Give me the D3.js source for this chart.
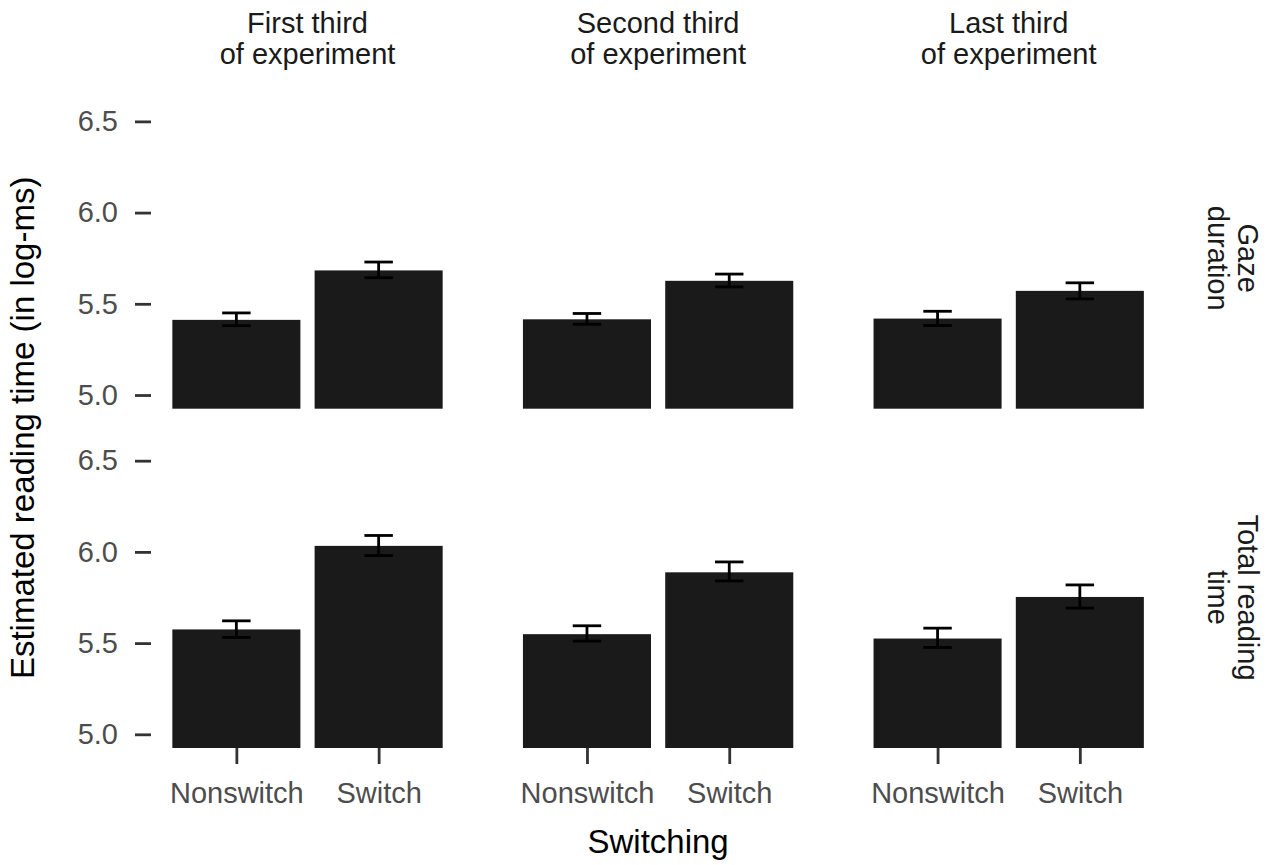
<!DOCTYPE html>
<html>
<head>
<meta charset="utf-8">
<script src="https://cdn.jsdelivr.net/npm/d3@7"></script>
<style>
  html, body { margin: 0; padding: 0; background: #fff; }
  svg { display: block; font-family: "Liberation Sans", Arial, Helvetica, sans-serif; }
</style>
</head>
<body>
<svg id="chart" width="1273" height="865"></svg>
<script>
// Facet definitions
const phases = ["First third\nof experiment", "Second third\nof experiment", "Last third\nof experiment"];
const measures = ["Gaze\nduration", "Total reading\ntime"];
const conditions = ["Nonswitch", "Switch"];
const yTicks = [5.0, 5.5, 6.0, 6.5];

// Estimated means (log-ms), one array per measure, ordered phase × condition
const gazeMean  = [5.412, 5.683, 5.415, 5.626, 5.419, 5.571];
const gazeLow   = [5.380, 5.643, 5.388, 5.593, 5.381, 5.527];
const gazeHigh  = [5.450, 5.729, 5.447, 5.663, 5.459, 5.615];
const totalMean = [5.575, 6.033, 5.549, 5.888, 5.525, 5.753];
const totalLow  = [5.531, 5.980, 5.511, 5.841, 5.476, 5.692];
const totalHigh = [5.622, 6.090, 5.595, 5.945, 5.582, 5.819];

const measureData = [
  { mean: gazeMean, low: gazeLow, high: gazeHigh },
  { mean: totalMean, low: totalLow, high: totalHigh }
];

const svg = d3.select("#chart");

// Layout of the facet grid
const panelLeft = 151, panelW = 313, colGap = 37.6;
const panelTop = 107.7, panelH = 301, rowGap = 38.3;

const yDomain = [4.925, 6.575];
const tickColor = "#333333";
const tickTextColor = "#4D4D4D";
const labelSize = 29;
const titleSize = 33;

// Column strip labels
phases.forEach((p, ci) => {
  const cx = panelLeft + ci * (panelW + colGap) + panelW / 2;
  const t = svg.append("text")
    .attr("text-anchor", "middle")
    .attr("font-size", labelSize)
    .attr("fill", "#1A1A1A");
  p.split("\n").forEach((line, li) => {
    t.append("tspan").attr("x", cx).attr("y", 33 + li * 30.5).text(line);
  });
});

measures.forEach((m, ri) => {
  const top = panelTop + ri * (panelH + rowGap);
  const y = d3.scaleLinear().domain(yDomain).range([top + panelH, top]);
  const d = measureData[ri];

  // Row strip label (rotated)
  const cy = top + panelH / 2;
  const rt = svg.append("text")
    .attr("text-anchor", "middle")
    .attr("font-size", labelSize)
    .attr("fill", "#1A1A1A")
    .attr("transform", `translate(1238,${cy}) rotate(90)`);
  m.split("\n").forEach((line, li) => {
    rt.append("tspan").attr("x", 0).attr("y", li * 30).text(line);
  });

  // Y axis (only on first column)
  const yAxis = d3.axisLeft(y).tickValues(yTicks).tickFormat(d3.format(".1f")).tickSize(16).tickPadding(17);
  const ga = svg.append("g")
    .attr("transform", `translate(${panelLeft},0)`)
    .call(yAxis);
  ga.select(".domain").remove();
  ga.selectAll(".tick line").attr("stroke", tickColor).attr("stroke-width", 2.8);
  ga.selectAll(".tick text")
    .attr("font-size", labelSize)
    .attr("fill", tickTextColor)
    .attr("font-family", "'Liberation Sans', Arial, sans-serif");

  phases.forEach((p, ci) => {
    const left = panelLeft + ci * (panelW + colGap);
    // discrete axis: categories at 1 and 2, expanded by 0.6 on each side
    const unit = panelW / 2.2;
    const xc = d3.scalePoint().domain(conditions).range([left + unit * 0.6, left + unit * 1.6]);
    const barW = unit * 0.9;
    const errW = unit * 0.2;

    const g = svg.append("g");
    conditions.forEach((c, k) => {
      const idx = ci * 2 + k;
      const cxp = xc(c);
      g.append("rect")
        .attr("x", cxp - barW / 2)
        .attr("width", barW)
        .attr("y", y(d.mean[idx]))
        .attr("height", y(yDomain[0]) - y(d.mean[idx]))
        .attr("fill", "#1A1A1A");
      // error bar
      const eb = g.append("g").attr("stroke", "#000").attr("stroke-width", 2.8).attr("fill", "none");
      eb.append("line").attr("x1", cxp).attr("x2", cxp).attr("y1", y(d.low[idx])).attr("y2", y(d.high[idx]));
      eb.append("line").attr("x1", cxp - errW / 2).attr("x2", cxp + errW / 2).attr("y1", y(d.low[idx])).attr("y2", y(d.low[idx]));
      eb.append("line").attr("x1", cxp - errW / 2).attr("x2", cxp + errW / 2).attr("y1", y(d.high[idx])).attr("y2", y(d.high[idx]));
    });

    // X axis on bottom row only
    if (ri === measures.length - 1) {
      const xAxis = d3.axisBottom(xc).tickSize(16).tickPadding(18);
      const gx = svg.append("g")
        .attr("transform", `translate(0,${top + panelH})`)
        .call(xAxis);
      gx.select(".domain").remove();
      gx.selectAll(".tick line").attr("stroke", tickColor).attr("stroke-width", 2.8);
      gx.selectAll(".tick text")
        .attr("font-size", labelSize)
        .attr("fill", tickTextColor)
        .attr("font-family", "'Liberation Sans', Arial, sans-serif");
    }
  });
});

// Axis titles
svg.append("text")
  .attr("x", panelLeft + (3 * panelW + 2 * colGap) / 2)
  .attr("y", 853)
  .attr("text-anchor", "middle")
  .attr("font-size", titleSize)
  .attr("fill", "#000")
  .text("Switching");

svg.append("text")
  .attr("transform", `translate(34,${panelTop + (2 * panelH + rowGap) / 2}) rotate(-90)`)
  .attr("text-anchor", "middle")
  .attr("font-size", titleSize)
  .attr("fill", "#000")
  .text("Estimated reading time (in log-ms)");
</script>
</body>
</html>
